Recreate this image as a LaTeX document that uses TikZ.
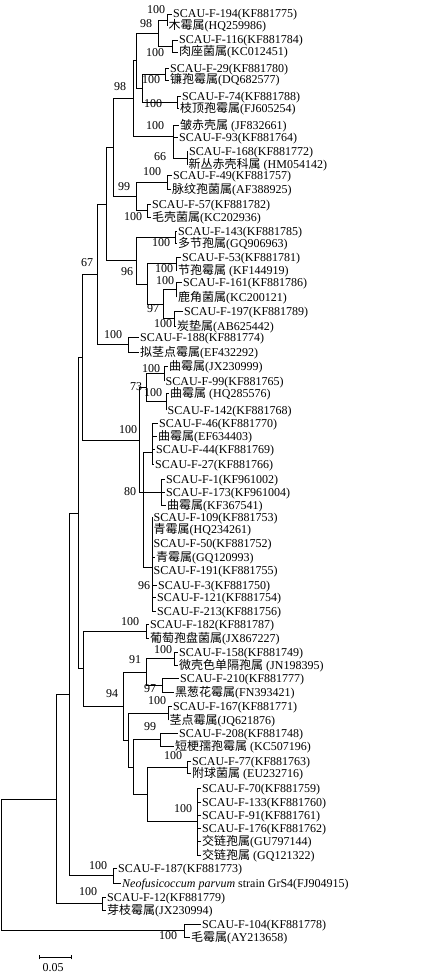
\documentclass[tikz,border=0pt]{standalone}
\usepackage{fontspec}
\setmainfont{Liberation Serif}
\newfontfamily\cjk{Noto Sans CJK SC}
\usetikzlibrary{calc}
\begin{document}
\begin{tikzpicture}[x=1pt,y=-1pt,
  lf/.style={anchor=west,inner xsep=1.5pt,inner ysep=0pt,text height=8pt,text depth=0pt,font=\fontsize{12}{14}\selectfont},
  bs/.style={inner sep=0pt,font=\fontsize{12}{14}\selectfont},
  br/.style={line width=0.8pt,line cap=rect}]
\useasboundingbox (0,0) rectangle (422,974);
% internal nodes
\coordinate (A1) at (167,20);
\coordinate (A2) at (172,46);
\coordinate (A3) at (165,74);
\coordinate (A4) at (177,102);
\coordinate (N158) at (158,33);
\coordinate (N142) at (142,88);
\coordinate (N136) at (136,60.5);
\coordinate (B2) at (187,158);
\coordinate (B1) at (173,136);
\coordinate (N133) at (133,98);
\coordinate (C1) at (167,182);
\coordinate (C2) at (147,210.5);
\coordinate (C) at (136,196);
\coordinate (N113) at (113,147);
\coordinate (D1) at (175,237);
\coordinate (D2) at (176,263.5);
\coordinate (D3) at (176.5,289.5);
\coordinate (D4) at (174,318.5);
\coordinate (D34) at (163,304);
\coordinate (D97) at (147,284);
\coordinate (D96) at (136,260.5);
\coordinate (N106) at (106,204);
\coordinate (E1) at (128,344.5);
\coordinate (N97) at (97,274);
\coordinate (F1) at (164,373.5);
\coordinate (F2) at (166,401.5);
\coordinate (F73) at (146,387.5);
\coordinate (G1) at (152,452);
\coordinate (G2) at (161,492);
\coordinate (G3) at (152,567);
\coordinate (L80) at (143,492);
\coordinate (P100) at (139,440);
\coordinate (N82) at (82,357);
\coordinate (H1) at (146,631);
\coordinate (H2) at (174,658.5);
\coordinate (H3) at (162,685);
\coordinate (H91) at (146,672);
\coordinate (H4) at (168,713);
\coordinate (H5) at (160,739.5);
\coordinate (H6) at (187,767);
\coordinate (H7) at (197,821.5);
\coordinate (H147) at (147,794);
\coordinate (H133) at (133,767);
\coordinate (H128) at (128,740);
\coordinate (H123) at (123,706);
\coordinate (N83) at (83,668.5);
\coordinate (N78) at (78,513);
\coordinate (I1) at (113,875.5);
\coordinate (N69) at (69,694);
\coordinate (I2) at (102,903.5);
\coordinate (N56) at (56,799);
\coordinate (I3) at (184,930.5);
\coordinate (R) at (1,865);
% leaves
\node[lf] (l1) at (171.5,14) {SCAU-F-194(KF881775)};
\node[lf] (l2) at (167,26) {{\cjk 木霉属}(HQ259986)};
\node[lf] (l3) at (177.5,40) {SCAU-F-116(KF881784)};
\node[lf] (l4) at (177.5,52) {{\cjk 肉座菌属}(KC012451)};
\node[lf] (l5) at (168.5,68) {SCAU-F-29(KF881780)};
\node[lf] (l6) at (168.5,80) {{\cjk 镰孢霉属}(DQ682577)};
\node[lf] (l7) at (180.5,96) {SCAU-F-74(KF881788)};
\node[lf] (l8) at (178.5,108) {{\cjk 枝顶孢霉属}(FJ605254)};
\node[lf] (l9) at (178.5,125) {{\cjk 皱赤壳属} (JF832661)};
\node[lf] (l10) at (177.5,137) {SCAU-F-93(KF881764)};
\node[lf] (l11) at (187.5,151.5) {SCAU-F-168(KF881772)};
\node[lf] (l12) at (187,164.5) {{\cjk 新丛赤壳科属} (HM054142)};
\node[lf] (l13) at (171.5,175) {SCAU-F-49(KF881757)};
\node[lf] (l14) at (170.5,189) {{\cjk 脉纹孢菌属}(AF388925)};
\node[lf] (l15) at (150.5,204) {SCAU-F-57(KF881782)};
\node[lf] (l16) at (150.5,217) {{\cjk 毛壳菌属}(KC202936)};
\node[lf] (l17) at (176.5,231) {SCAU-F-143(KF881785)};
\node[lf] (l18) at (176.5,243) {{\cjk 多节孢属}(GQ906963)};
\node[lf] (l19) at (180.5,257) {SCAU-F-53(KF881781)};
\node[lf] (l20) at (176.5,270) {{\cjk 节孢霉属} (KF144919)};
\node[lf] (l21) at (181.5,282) {SCAU-F-161(KF881786)};
\node[lf] (l22) at (176.5,297) {{\cjk 鹿角菌属}(KC200121)};
\node[lf] (l23) at (182.5,311) {SCAU-F-197(KF881789)};
\node[lf] (l24) at (175.5,326) {{\cjk 炭垫属}(AB625442)};
\node[lf] (l25) at (138.5,337) {SCAU-F-188(KF881774)};
\node[lf] (l26) at (138.5,352) {{\cjk 拟茎点霉属}(EF432292)};
\node[lf] (l27) at (167.5,366) {{\cjk 曲霉属}(JX230999)};
\node[lf] (l28) at (164,381) {SCAU-F-99(KF881765)};
\node[lf] (l29) at (168.5,393) {{\cjk 曲霉属} (HQ285576)};
\node[lf] (l30) at (166,410) {SCAU-F-142(KF881768)};
\node[lf] (l31) at (157.5,423) {SCAU-F-46(KF881770)};
\node[lf] (l32) at (156.5,436) {{\cjk 曲霉属}(EF634403)};
\node[lf] (l33) at (154.5,449) {SCAU-F-44(KF881769)};
\node[lf] (l34) at (153.5,464) {SCAU-F-27(KF881766)};
\node[lf] (l35) at (164.5,479) {SCAU-F-1(KF961002)};
\node[lf] (l36) at (164.5,492) {SCAU-F-173(KF961004)};
\node[lf] (l37) at (165.5,505) {{\cjk 曲霉属}(KF367541)};
\node[lf] (l38) at (152,517) {SCAU-F-109(KF881753)};
\node[lf] (l39) at (152,529) {{\cjk 青霉属}(HQ234261)};
\node[lf] (l40) at (152,543) {SCAU-F-50(KF881752)};
\node[lf] (l41) at (154.5,557) {{\cjk 青霉属}(GQ120993)};
\node[lf] (l42) at (152,570) {SCAU-F-191(KF881755)};
\node[lf] (l43) at (156.5,585) {SCAU-F-3(KF881750)};
\node[lf] (l44) at (155.5,597) {SCAU-F-121(KF881754)};
\node[lf] (l45) at (155.5,611) {SCAU-F-213(KF881756)};
\node[lf] (l46) at (148.5,624) {SCAU-F-182(KF881787)};
\node[lf] (l47) at (148.5,638) {{\cjk 葡萄孢盘菌属}(JX867227)};
\node[lf] (l48) at (177.5,652) {SCAU-F-158(KF881749)};
\node[lf] (l49) at (177.5,665) {{\cjk 微壳色单隔孢属} (JN198395)};
\node[lf] (l50) at (178.5,678) {SCAU-F-210(KF881777)};
\node[lf] (l51) at (173.5,692) {{\cjk 黑葱花霉属}(FN393421)};
\node[lf] (l52) at (171.5,706) {SCAU-F-167(KF881771)};
\node[lf] (l53) at (168,720) {{\cjk 茎点霉属}(JQ621876)};
\node[lf] (l54) at (177.5,733) {SCAU-F-208(KF881748)};
\node[lf] (l55) at (173.5,746) {{\cjk 短梗孺孢霉属} (KC507196)};
\node[lf] (l56) at (190.5,761) {SCAU-F-77(KF881763)};
\node[lf] (l57) at (190.5,773) {{\cjk 附球菌属} (EU232716)};
\node[lf] (l58) at (200.5,788) {SCAU-F-70(KF881759)};
\node[lf] (l59) at (200.5,802) {SCAU-F-133(KF881760)};
\node[lf] (l60) at (200.5,815) {SCAU-F-91(KF881761)};
\node[lf] (l61) at (200.5,828) {SCAU-F-176(KF881762)};
\node[lf] (l62) at (200.5,841) {{\cjk 交链孢属}(GU797144)};
\node[lf] (l63) at (200.5,855) {{\cjk 交链孢属} (GQ121322)};
\node[lf] (l64) at (116.5,868) {SCAU-F-187(KF881773)};
\node[lf] (l65) at (120.5,883) {\textit{Neofusicoccum parvum} strain GrS4(FJ904915)};
\node[lf] (l66) at (105.5,897) {SCAU-F-12(KF881779)};
\node[lf] (l67) at (105.5,910) {{\cjk 芽枝霉属}(JX230994)};
\node[lf] (l68) at (200.5,924) {SCAU-F-104(KF881778)};
\node[lf] (l69) at (189.5,937) {{\cjk 毛霉属}(AY213658)};
% internal branches
\draw[br] (R) |- (N56); \draw[br] (R) |- (I3);
\draw[br] (N56) |- (N69); \draw[br] (N56) |- (I2);
\draw[br] (N69) |- (N78); \draw[br] (N69) |- (I1);
\draw[br] (N78) |- (N82); \draw[br] (N78) |- (N83);
\draw[br] (N82) |- (N97); \draw[br] (N82) |- (P100);
\draw[br] (N97) |- (N106); \draw[br] (N97) |- (E1);
\draw[br] (N106) |- (N113); \draw[br] (N106) |- (D96);
\draw[br] (N113) |- (N133); \draw[br] (N113) |- (C);
\draw[br] (N133) |- (N136); \draw[br] (N133) |- (B1);
\draw[br] (N136) |- (N158); \draw[br] (N136) |- (N142);
\draw[br] (N158) |- (A1); \draw[br] (N158) |- (A2);
\draw[br] (N142) |- (A3); \draw[br] (N142) |- (A4);
\draw[br] (B1) |- (B2);
\draw[br] (C) |- (C1); \draw[br] (C) |- (C2);
\draw[br] (D96) |- (D1); \draw[br] (D96) |- (D97);
\draw[br] (D97) |- (D2); \draw[br] (D97) |- (D34);
\draw[br] (D34) |- (D3); \draw[br] (D34) |- (D4);
\draw[br] (P100) |- (F73); \draw[br] (P100) |- (L80);
\draw[br] (F73) |- (F1); \draw[br] (F73) |- (F2);
\draw[br] (L80) |- (G1); \draw[br] (L80) |- (G2); \draw[br] (L80) |- (G3);
\draw[br] (N83) |- (H1); \draw[br] (N83) |- (H123);
\draw[br] (H123) |- (H91); \draw[br] (H123) |- (H128);
\draw[br] (H91) |- (H2); \draw[br] (H91) |- (H3);
\draw[br] (H128) |- (H4); \draw[br] (H128) |- (H133);
\draw[br] (H133) |- (H5); \draw[br] (H133) |- (H147);
\draw[br] (H147) |- (H6); \draw[br] (H147) |- (H7);
% leaf branches
\foreach \p/\a/\b in {A1/1/2, A2/3/4, A3/5/6, A4/7/8, B1/9/10, B2/11/12, C1/13/14, C2/15/16,
  D1/17/18, D2/19/20, D3/21/22, D4/23/24, E1/25/26, F1/27/28, F2/29/30, H1/46/47, H2/48/49,
  H3/50/51, H4/52/53, H5/54/55, H6/56/57, I1/64/65, I2/66/67, I3/68/69}
  {\draw[br] (\p) |- (l\a.west); \draw[br] (\p) |- (l\b.west);}
\foreach \i in {31,...,34} {\draw[br] (G1) |- (l\i.west);}
\foreach \i in {35,...,37} {\draw[br] (G2) |- (l\i.west);}
\foreach \i in {38,...,45} {\draw[br] (G3) |- (l\i.west);}
\foreach \i in {58,...,63} {\draw[br] (H7) |- (l\i.west);}
% bootstrap values
\node[bs] (b1) at (156,10) {100};
\node[bs] (b2) at (146,24) {98};
\node[bs] (b3) at (155,53) {100};
\node[bs] (b4) at (151,80) {100};
\node[bs] (b5) at (153,104) {100};
\node[bs] (b6) at (120,87) {98};
\node[bs] (b7) at (155,126) {100};
\node[bs] (b8) at (160,157) {66};
\node[bs] (b9) at (152,172) {100};
\node[bs] (b10) at (124,187) {99};
\node[bs] (b11) at (133,217) {100};
\node[bs] (b12) at (161,243) {100};
\node[bs] (b13) at (127,272) {96};
\node[bs] (b14) at (164,269) {100};
\node[bs] (b15) at (165,281) {100};
\node[bs] (b16) at (153,309) {97};
\node[bs] (b17) at (163,324) {100};
\node[bs] (b18) at (87,263) {67};
\node[bs] (b19) at (113,335) {100};
\node[bs] (b20) at (151,369) {100};
\node[bs] (b21) at (136,387) {73};
\node[bs] (b22) at (153,393) {100};
\node[bs] (b23) at (128,430) {100};
\node[bs] (b24) at (130,492) {80};
\node[bs] (b25) at (144,586) {96};
\node[bs] (b26) at (130,622) {100};
\node[bs] (b27) at (163,650) {100};
\node[bs] (b28) at (135,660) {91};
\node[bs] (b29) at (150,689) {97};
\node[bs] (b30) at (112,694) {94};
\node[bs] (b31) at (157,701) {100};
\node[bs] (b32) at (150,727) {99};
\node[bs] (b33) at (173,756) {100};
\node[bs] (b34) at (183,809) {100};
\node[bs] (b35) at (98,866) {100};
\node[bs] (b36) at (88,892) {100};
\node[bs] (b37) at (168,936) {100};
% scale bar
\coordinate (sbl) at (39,957);
\coordinate (sbr) at (71,957);
\draw[br] (sbl) -- (sbr);
\draw[br] ($(sbl)+(0,-2)$) -- ($(sbl)+(0,2)$);
\draw[br] ($(sbr)+(0,-2)$) -- ($(sbr)+(0,2)$);
\node[bs] (sbt) at (53,968) {0.05};
\end{tikzpicture}
\end{document}
